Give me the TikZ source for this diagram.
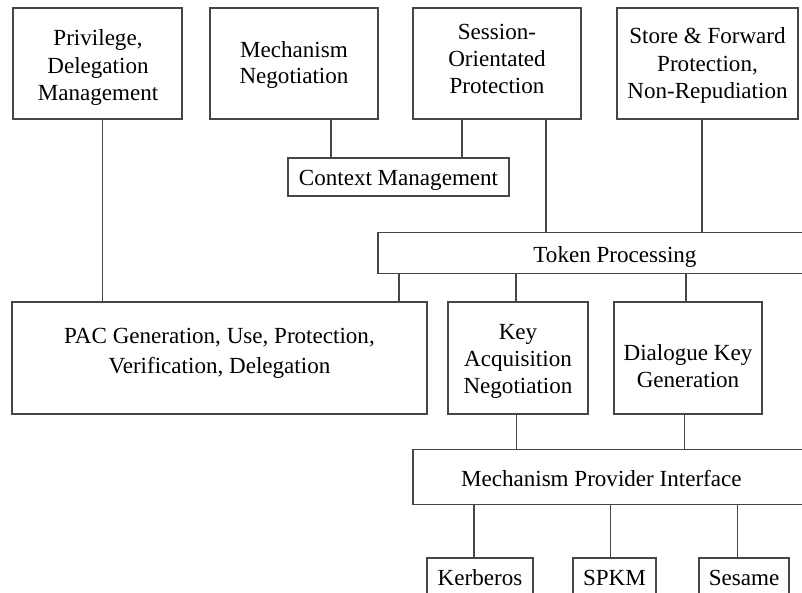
\documentclass[tikz,border=0pt]{standalone}
\usepackage{fontspec}
\setmainfont{Liberation Serif}
\begin{document}
\definecolor{edge}{RGB}{70,70,70}
\begin{tikzpicture}[x=0.75pt,y=-0.75pt,
  every node/.style={font=\fontsize{17.3}{20.5}\selectfont, text=black},
  box/.style={draw=edge, line width=0.8pt, inner sep=0pt},
  sz/.style 2 args={minimum width=#1*0.75pt, minimum height=#2*0.75pt},
  txt/.style={inner sep=0pt, align=center},
  tight/.style={font=\fontsize{17.3}{20}\selectfont},
  wide/.style={font=\fontsize{17.3}{22.5}\selectfont},
  link/.style={draw=edge, line width=0.8pt}]
\useasboundingbox (0,0) rectangle (802,592);
\clip (0,0) rectangle (802,592);

% top row
\node[box, sz={169}{111}] (priv) at (97.5,63.5) {};
\node[txt] (privtxt) at (98,67.5) {Privilege,\\Delegation\\Management};
\node[box, sz={168}{111}] (mech) at (294,63.5) {};
\node[txt, tight] (mechtxt) at (294,65) {Mechanism\\Negotiation};
\node[box, sz={168}{111}] (sess) at (497,63.5) {};
\node[txt] (sesstxt) at (497,59) {Session-\\Orientated\\Protection};
\node[box, sz={181}{111}] (store) at (707.5,63.5) {};
\node[txt] (storetxt) at (707.5,65.5) {Store \& Forward\\Protection,\\Non-Repudiation};

% context and token layers
\node[box, sz={221}{38}] (ctx) at (398.5,177) {};
\node[txt] (ctxtxt) at (398.5,180) {Context Management};
\node[box, sz={452}{41}] (tok) at (604,252.7) {};
\node[txt] (toktxt) at (615,256.5) {Token Processing};

% middle row
\node[box, sz={415}{112}] (pac) at (219.5,358) {};
\node[txt, wide] (pactxt) at (219.5,353) {PAC Generation, Use, Protection,\\Verification, Delegation};
\node[box, sz={140}{112}] (key) at (518,358) {};
\node[txt] (keytxt) at (518,361.5) {Key\\Acquisition\\Negotiation};
\node[box, sz={148}{112}] (dial) at (688,358) {};
\node[txt, tight] (dialtxt) at (688,366) {Dialogue Key\\Generation};

% provider interface and mechanisms
\node[box, sz={417}{55}] (mpi) at (621.5,476.8) {};
\node[txt] (mpitxt) at (601.3,478) {Mechanism Provider Interface};
\node[box, sz={106}{40}] (kerb) at (480,578) {};
\node[txt] (kerbtxt) at (480,577.2) {Kerberos};
\node[box, sz={83}{40}] (spkm) at (614.5,578) {};
\node[txt] (spkmtxt) at (614.5,578) {SPKM};
\node[box, sz={90}{40}] (ses) at (744,578) {};
\node[txt] (sestxt) at (744,578) {Sesame};

% connectors
\draw[link] (priv.south -| 102.7,0) -- (pac.north -| 102.7,0);
\draw[link] (mech.south -| 331,0) -- (ctx.north -| 331,0);
\draw[link] (sess.south -| 462,0) -- (ctx.north -| 462,0);
\draw[link] (sess.south -| 546,0) -- (tok.north -| 546,0);
\draw[link] (store.south -| 702,0) -- (tok.north -| 702,0);
\draw[link] (tok.south -| 399,0) -- (pac.north -| 399,0);
\draw[link] (tok.south -| 516,0) -- (key.north -| 516,0);
\draw[link] (tok.south -| 686,0) -- (dial.north -| 686,0);
\draw[link] (key.south -| 516.5,0) -- (mpi.north -| 516.5,0);
\draw[link] (dial.south -| 684.5,0) -- (mpi.north -| 684.5,0);
\draw[link] (mpi.south -| 474,0) -- (kerb.north -| 474,0);
\draw[link] (mpi.south -| 610.7,0) -- (spkm.north -| 610.7,0);
\draw[link] (mpi.south -| 737.3,0) -- (ses.north -| 737.3,0);
\end{tikzpicture}
\end{document}
